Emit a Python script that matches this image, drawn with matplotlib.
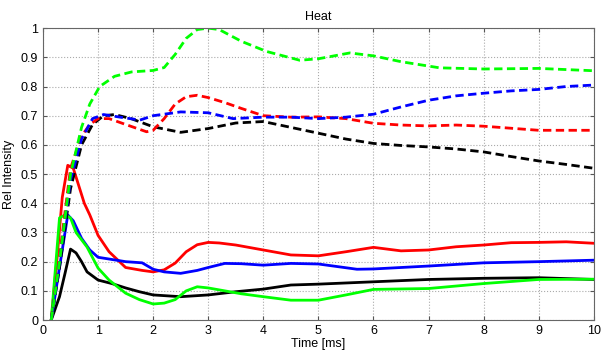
import numpy as np
import matplotlib
matplotlib.use('Agg')
import matplotlib.pyplot as plt

plt.rcParams['font.family'] = ['Liberation Sans', 'DejaVu Sans']

# solid series
t_black = [0.15, 0.3, 0.4, 0.5, 0.6, 0.7, 0.8, 1.0, 1.25, 1.5, 1.75, 2.0, 2.5, 3.0, 3.5, 4.0, 4.5, 5.0, 6.0, 7.0, 8.0, 9.0, 10.0]
v_black = [0.0, 0.08, 0.16, 0.243, 0.23, 0.2, 0.165, 0.137, 0.125, 0.11, 0.097, 0.086, 0.08, 0.086, 0.097, 0.106, 0.12, 0.123, 0.131, 0.139, 0.143, 0.145, 0.139]

t_red = [0.15, 0.25, 0.35, 0.45, 0.55, 0.65, 0.75, 0.85, 1.0, 1.2, 1.5, 1.8, 2.0, 2.2, 2.4, 2.6, 2.8, 3.0, 3.2, 3.5, 4.0, 4.5, 5.0, 5.5, 6.0, 6.5, 7.0, 7.5, 8.0, 8.5, 9.0, 9.5, 10.0]
v_red = [0.0, 0.2, 0.42, 0.53, 0.52, 0.46, 0.4, 0.36, 0.29, 0.234, 0.18, 0.17, 0.165, 0.172, 0.195, 0.234, 0.258, 0.266, 0.264, 0.257, 0.24, 0.223, 0.22, 0.234, 0.249, 0.237, 0.24, 0.251, 0.257, 0.265, 0.266, 0.268, 0.263]

t_blue = [0.15, 0.3, 0.45, 0.55, 0.7, 0.85, 1.0, 1.5, 1.8, 2.0, 2.2, 2.5, 2.8, 3.0, 3.3, 3.6, 4.0, 4.5, 5.0, 5.7, 6.0, 7.0, 8.0, 9.0, 10.0]
v_blue = [0.0, 0.18, 0.36, 0.34, 0.28, 0.24, 0.215, 0.2, 0.196, 0.174, 0.165, 0.16, 0.17, 0.18, 0.194, 0.193, 0.188, 0.194, 0.192, 0.174, 0.175, 0.185, 0.196, 0.2, 0.205]

t_green = [0.15, 0.3, 0.4, 0.5, 0.6, 0.8, 1.0, 1.2, 1.5, 1.75, 2.0, 2.2, 2.4, 2.6, 2.8, 3.0, 3.3, 3.6, 4.0, 4.5, 5.0, 5.5, 6.0, 7.0, 8.0, 9.0, 10.0]
v_green = [0.0, 0.35, 0.36, 0.35, 0.3, 0.25, 0.178, 0.137, 0.092, 0.07, 0.055, 0.058, 0.07, 0.1, 0.114, 0.11, 0.1, 0.09, 0.08, 0.068, 0.068, 0.086, 0.105, 0.108, 0.125, 0.139, 0.14]

# dashed series
td_black = [0.15, 0.3, 0.5, 0.7, 0.9, 1.1, 1.3, 1.6, 2.0, 2.5, 3.0, 3.5, 4.0, 4.5, 5.0, 5.5, 6.0, 6.5, 7.0, 7.5, 8.0, 8.5, 9.0, 9.5, 10.0]
vd_black = [0.0, 0.18, 0.45, 0.6, 0.67, 0.7, 0.704, 0.69, 0.662, 0.643, 0.656, 0.675, 0.68, 0.66, 0.64, 0.62, 0.605, 0.598, 0.593, 0.586, 0.576, 0.56, 0.545, 0.533, 0.52]

td_red = [0.15, 0.3, 0.5, 0.7, 0.85, 1.0, 1.2, 1.5, 1.88, 2.0, 2.2, 2.4, 2.6, 2.8, 3.0, 3.3, 3.6, 4.0, 4.5, 5.0, 5.5, 6.0, 6.5, 7.0, 7.5, 8.0, 8.5, 9.0, 9.5, 10.0]
vd_red = [0.0, 0.22, 0.52, 0.63, 0.67, 0.69, 0.69, 0.67, 0.645, 0.65, 0.69, 0.74, 0.765, 0.77, 0.762, 0.745, 0.725, 0.7, 0.695, 0.696, 0.69, 0.674, 0.668, 0.665, 0.668, 0.664, 0.657, 0.65, 0.65, 0.65]

td_blue = [0.15, 0.3, 0.5, 0.7, 0.9, 1.1, 1.4, 1.76, 2.0, 2.5, 3.0, 3.45, 4.0, 4.5, 5.0, 5.5, 6.0, 6.5, 7.0, 7.5, 8.0, 8.5, 9.0, 9.5, 10.0]
vd_blue = [0.0, 0.2, 0.48, 0.62, 0.69, 0.704, 0.695, 0.685, 0.7, 0.713, 0.71, 0.69, 0.695, 0.695, 0.69, 0.695, 0.705, 0.73, 0.753, 0.768, 0.777, 0.785, 0.79, 0.8, 0.805]

td_green = [0.15, 0.3, 0.5, 0.7, 0.85, 1.03, 1.3, 1.61, 2.0, 2.2, 2.4, 2.6, 2.8, 3.0, 3.2, 3.6, 4.06, 4.66, 5.0, 5.57, 6.0, 6.5, 7.2, 8.0, 9.0, 10.0]
vd_green = [0.0, 0.2, 0.5, 0.66, 0.74, 0.8, 0.835, 0.85, 0.855, 0.865, 0.91, 0.965, 0.995, 1.0, 0.995, 0.955, 0.92, 0.89, 0.895, 0.915, 0.905, 0.885, 0.864, 0.86, 0.862, 0.854]

fig = plt.figure(figsize=(6.02, 3.56), dpi=100)
ax = fig.add_axes([0.0714, 0.101, 0.915, 0.82])

lw = 2.0
ax.plot(t_black, v_black, color='k', lw=lw)
ax.plot(t_red, v_red, color='r', lw=lw)
ax.plot(t_blue, v_blue, color='b', lw=lw)
ax.plot(t_green, v_green, color='#00ff00', lw=lw)
for t, v, c in [(td_black, vd_black, 'k'), (td_red, vd_red, 'r'),
                (td_blue, vd_blue, 'b'), (td_green, vd_green, '#00ff00')]:
    ax.plot(t, v, color=c, lw=lw, linestyle=(0, (3, 1.6)))

ax.set_xlim(0, 10)
ax.set_ylim(0, 1)
ax.set_xticks(range(0, 11))
ax.set_yticks(np.arange(0, 1.01, 0.1))
ax.set_yticklabels(['0', '0.1', '0.2', '0.3', '0.4', '0.5', '0.6', '0.7', '0.8', '0.9', '1'])
ax.grid(True, linestyle=':', color='#aaaaaa', lw=0.8)
ax.tick_params(direction='in', top=True, right=True, labelsize=9, length=3, color='#555555')
for s in ax.spines.values():
    s.set_color('#666666')
ax.set_title('Heat', fontsize=9, pad=6)
ax.set_xlabel('Time [ms]', fontsize=9, labelpad=1)
ax.set_ylabel('Rel Intensity', fontsize=9, labelpad=4)

fig.savefig('out.png', dpi=100)
